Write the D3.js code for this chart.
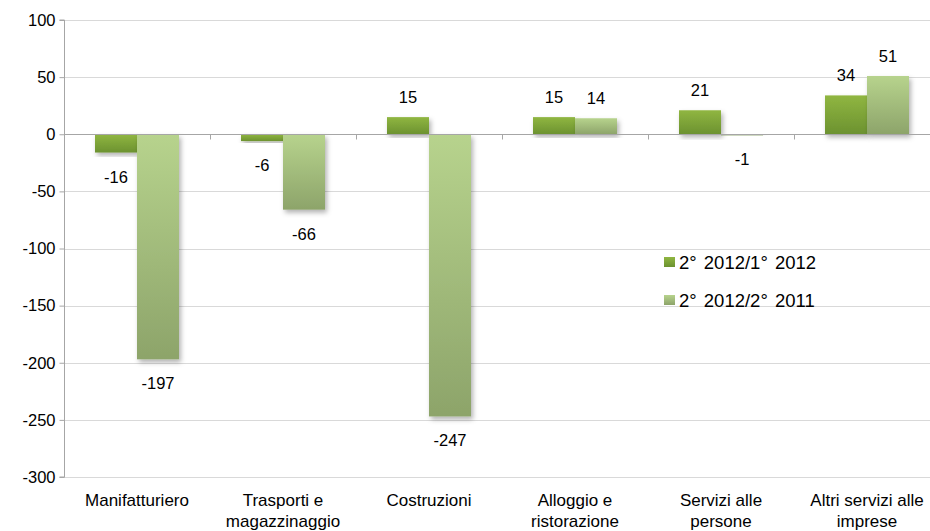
<!DOCTYPE html>
<html>
<head>
<meta charset="utf-8">
<script src="https://cdn.jsdelivr.net/npm/d3@7"></script>
<style>
  html, body { margin: 0; padding: 0; background: #fff; }
  svg { display: block; font-family: "Liberation Sans", Arial, sans-serif; }
</style>
</head>
<body>
<svg id="chart" width="930" height="531"></svg>
<script>
const categories = [
  ["Manifatturiero"],
  ["Trasporti e", "magazzinaggio"],
  ["Costruzioni"],
  ["Alloggio e", "ristorazione"],
  ["Servizi alle", "persone"],
  ["Altri servizi alle", "imprese"]
];
const seriesNames = ["2° 2012/1° 2012", "2° 2012/2° 2011"];
const series1 = [-16, -6, 15, 15, 21, 34];
const series2 = [-197, -66, -247, 14, -1, 51];
const yTicks = [100, 50, 0, -50, -100, -150, -200, -250, -300];

const svg = d3.select("#chart");
const pLeft = 64, pRight = 940, pTop = 20, pBottom = 477;

const x0 = d3.scaleBand().domain(d3.range(categories.length)).range([pLeft, pRight]).paddingInner(0).paddingOuter(0);
const x1 = d3.scaleBand().domain([0, 1]).range([31, x0.bandwidth() - 31]).padding(0);
const y = d3.scaleLinear().domain([-300, 100]).range([pBottom, pTop]);

const defs = svg.append("defs");
const gradColors = [["#90b641", "#6c9230"], ["#b7d38d", "#8da46a"]];
gradColors.forEach((c, i) => {
  const g = defs.append("linearGradient").attr("id", "g" + i)
    .attr("x1", 0).attr("y1", 0).attr("x2", 0).attr("y2", 1);
  g.append("stop").attr("offset", "0%").attr("stop-color", c[0]);
  g.append("stop").attr("offset", "100%").attr("stop-color", c[1]);
});
const f = defs.append("filter").attr("id", "shadow").attr("x", "-20%").attr("y", "-20%").attr("width", "140%").attr("height", "140%");
f.append("feDropShadow").attr("dx", 2).attr("dy", 3).attr("stdDeviation", 2.5)
  .attr("flood-color", "#000").attr("flood-opacity", 0.3);

// gridlines
svg.append("g").selectAll("line").data(yTicks.filter(d => d !== 0)).join("line")
  .attr("x1", pLeft).attr("x2", 930)
  .attr("y1", d => Math.round(y(d)) + 0.5).attr("y2", d => Math.round(y(d)) + 0.5)
  .attr("stroke", "#d9d9d9").attr("stroke-width", 1);

// y axis
const yAxis = d3.axisLeft(y).tickValues(yTicks).tickSize(5).tickPadding(4).tickFormat(d => String(d));
const ya = svg.append("g").attr("transform", `translate(${pLeft + 0.5},0)`).call(yAxis);
ya.select(".domain").attr("stroke", "#a6a6a6").attr("d", `M-5,${pTop}H0V${pBottom}H-5`);
ya.selectAll(".tick line").attr("stroke", "#a6a6a6");
ya.selectAll(".tick text").attr("font-size", "16.5px").attr("fill", "#000")
  .attr("font-family", "Liberation Sans, Arial, sans-serif");

// bars
const data = categories.map((c, i) => [series1[i], series2[i]]);
const groups = svg.append("g").selectAll("g").data(data).join("g")
  .attr("transform", (d, i) => `translate(${x0(i)},0)`);
groups.selectAll("rect").data(d => d.map((v, s) => ({ v, s }))).join("rect")
  .attr("x", d => x1(d.s))
  .attr("width", x1.bandwidth())
  .attr("y", d => y(Math.max(0, d.v)))
  .attr("height", d => Math.max(1, Math.abs(y(d.v) - y(0))))
  .attr("fill", d => `url(#g${d.s})`)
  .attr("filter", "url(#shadow)");

// zero line + category ticks
const yz = Math.round(y(0)) + 0.5;
svg.append("line").attr("x1", pLeft).attr("x2", 930).attr("y1", yz).attr("y2", yz)
  .attr("stroke", "#a6a6a6").attr("stroke-width", 1);
svg.append("g").selectAll("line").data(d3.range(categories.length + 1)).join("line")
  .attr("x1", i => Math.round(pLeft + i * x0.step()) + 0.5)
  .attr("x2", i => Math.round(pLeft + i * x0.step()) + 0.5)
  .attr("y1", yz).attr("y2", yz + 5)
  .attr("stroke", "#a6a6a6");

// value labels
groups.selectAll("text.val").data(d => d.map((v, s) => ({ v, s }))).join("text")
  .attr("class", "val")
  .attr("x", d => x1(d.s) + x1.bandwidth() / 2)
  .attr("y", d => d.v >= 0 ? y(d.v) - 14 : y(d.v) + 30)
  .attr("text-anchor", "middle")
  .attr("font-size", "16.5px").attr("fill", "#000")
  .text(d => d.v);

// category labels
const cl = svg.append("g").selectAll("text").data(categories).join("text")
  .attr("x", (d, i) => x0(i) + x0.bandwidth() / 2)
  .attr("y", 506)
  .attr("text-anchor", "middle")
  .attr("font-size", "17px").attr("fill", "#000");
cl.selectAll("tspan").data(d => d).join("tspan")
  .attr("x", function () { return this.parentNode.getAttribute("x"); })
  .attr("dy", (d, i) => i === 0 ? 0 : 21)
  .text(d => d);

// legend
const lg = svg.append("g").selectAll("g").data(seriesNames).join("g")
  .attr("transform", (d, i) => `translate(664,${257 + i * 38})`);
lg.append("rect").attr("width", 11).attr("height", 10).attr("fill", (d, i) => `url(#g${i})`);
lg.append("text").attr("x", 15).attr("y", 12).attr("font-size", "18.5px")
  .attr("word-spacing", "2px").attr("fill", "#000").text(d => d);
</script>
</body>
</html>
